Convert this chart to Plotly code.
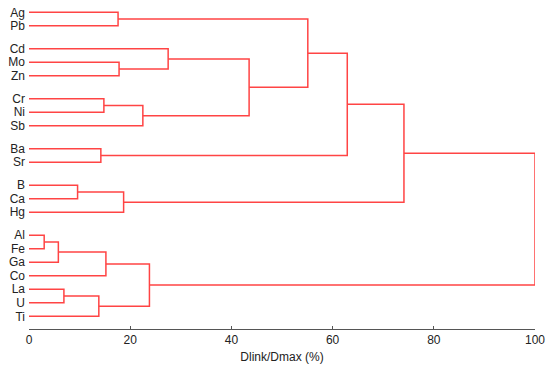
import plotly.graph_objects as go

# Leaves (top to bottom) and the cluster groups they fall into
leaves = ["Ag", "Pb", "Cd", "Mo", "Zn", "Cr", "Ni", "Sb", "Ba", "Sr",
          "B", "Ca", "Hg", "Al", "Fe", "Ga", "Co", "La", "U", "Ti"]
group_sizes = [2, 3, 3, 2, 3, 7]

# Linkage: (left node, right node, Dlink/Dmax %) ; new nodes numbered from 20
merge_left = [0, 3, 2, 5, 23, 22, 20, 8, 26, 10, 29, 28, 13, 32, 33, 17, 35, 34, 31]
merge_right = [1, 4, 21, 6, 7, 24, 25, 9, 27, 11, 12, 30, 14, 15, 16, 18, 19, 36, 37]
merge_height = [17.6, 17.8, 27.5, 14.8, 22.5, 43.5, 55.1, 14.2, 62.9, 9.6,
                18.7, 74.1, 3.0, 5.8, 15.2, 6.9, 13.8, 23.8, 100.0]

x_ticks = [0, 20, 40, 60, 80, 100]

# leaf positions: unit spacing with a small extra gap between groups
GAP = 0.7
pos = []
p = 0.0
for gi, gs in enumerate(group_sizes):
    for _ in range(gs):
        pos.append(p)
        p += 1
    p += GAP

node_y = list(pos)
node_h = [0.0] * len(leaves)
xs, ys = [], []
for a, b, h in zip(merge_left, merge_right, merge_height):
    ya, yb = node_y[a], node_y[b]
    xs += [node_h[a], h, h, node_h[b], None]
    ys += [ya, ya, yb, yb, None]
    node_y.append((ya + yb) / 2)
    node_h.append(h)

fig = go.Figure()
fig.add_trace(go.Scatter(x=xs, y=ys, mode="lines",
                         line=dict(color="#ff4444", width=1.5),
                         hoverinfo="skip", showlegend=False))

fig.update_layout(
    width=550, height=374,
    margin=dict(l=29, r=15, t=5, b=45),
    paper_bgcolor="white", plot_bgcolor="white",
    font=dict(family="Liberation Sans, Arial, sans-serif", size=12, color="#222"),
)
fig.update_xaxes(
    range=[0, 100], tickvals=x_ticks, ticktext=[str(v) for v in x_ticks],
    showgrid=False, zeroline=False, showline=True, linecolor="#555", linewidth=1,
    ticks="inside", ticklen=3, tickcolor="#555", automargin=False,
    title=dict(text="Dlink/Dmax (%)", standoff=6, font=dict(size=12)),
    tickfont=dict(size=12),
)
fig.update_yaxes(
    range=[pos[-1] + 0.94, -0.54], tickvals=pos[:len(leaves)], ticktext=leaves,
    showgrid=False, zeroline=False, showline=False, ticks="", automargin=False,
    tickfont=dict(size=12), ticklabelstandoff=3,
)

fig.write_html("out.html", config={"displayModeBar": False},
               post_script="document.body.style.margin='0';document.body.style.overflow='hidden';")
